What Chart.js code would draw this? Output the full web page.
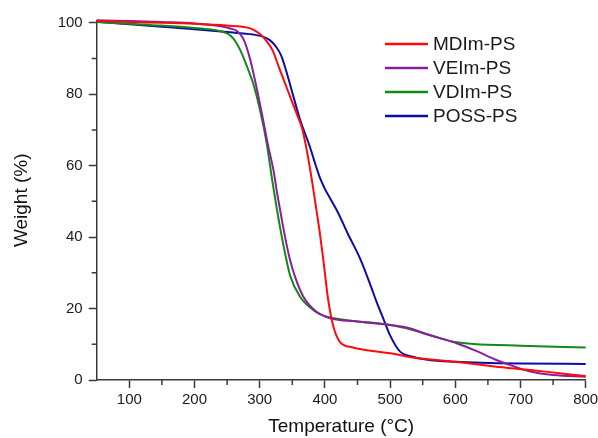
<!DOCTYPE html>
<html>
<head>
<meta charset="utf-8">
<script src="https://cdn.jsdelivr.net/npm/chart.js@4/dist/chart.umd.min.js"></script>
<style>
    html, body { margin: 0; padding: 0; background: #fff; }
    #wrap { width: 598px; height: 438px; }
</style>
</head>
<body>
<div id="wrap"><canvas id="mycanvas"></canvas></div>
<script>
// TGA curves, temperature (°C) vs remaining weight (%)
const seriesNames = ['MDIm-PS', 'VEIm-PS', 'VDIm-PS', 'POSS-PS'];

const mdimT = [50, 100, 150, 200, 250, 280, 290, 300, 310, 320, 330, 340, 350, 360, 365, 372, 380, 385, 392, 398, 405, 413, 423, 443, 470, 500, 535, 600, 660, 715, 760, 800];
const mdimW = [100.5, 100.2, 100, 99.7, 99.2, 98.7, 98.1, 96.9, 95, 92.2, 87.3, 82.5, 77.7, 73, 70.5, 64.5, 56, 50, 41.5, 33, 22.5, 15, 10.7, 9.1, 8.2, 7.5, 6.3, 5.1, 3.8, 2.8, 1.9, 1.1];

const veimT = [50, 100, 150, 200, 240, 255, 265, 275, 285, 295, 305, 313, 321, 327, 334, 340, 346, 354, 367, 387, 408, 450, 500, 530, 551, 575, 602, 630, 663, 690, 715, 750, 800];
const veimW = [100.7, 100.5, 100.2, 99.8, 99, 98.4, 97.7, 95.5, 90, 82, 73, 65.5, 58.8, 52, 44.8, 39, 34, 29, 23.3, 19.1, 17.3, 16.4, 15.4, 14.5, 13.1, 11.8, 10.3, 8.3, 5.6, 3.8, 2.4, 1.4, 0.9];

const vdimT = [50, 100, 150, 200, 250, 260, 270, 280, 290, 300, 310, 320, 330, 340, 347, 362, 382, 403, 423, 450, 500, 535, 565, 597, 628, 700, 800];
const vdimW = [100.2, 99.7, 99.2, 98.5, 97, 95.5, 92.4, 88, 83, 76, 67, 55, 44, 34.5, 29, 23.3, 19.6, 17.7, 17, 16.4, 15.4, 14, 12.4, 10.7, 10.1, 9.6, 9.1];

const possT = [50, 100, 150, 200, 250, 290, 305, 315, 325, 333, 341, 350, 362, 377, 385, 392, 400, 410, 420, 435, 454, 469, 480, 490, 500, 515, 535, 560, 600, 640, 700, 800];
const possW = [100.3, 99.6, 98.9, 98.2, 97.4, 96.7, 96.1, 95.2, 93.3, 90.8, 86.3, 80.5, 72.8, 65.3, 60.6, 56.8, 53.5, 50.2, 46.9, 41, 34, 27, 21.5, 17, 12.5, 8, 6.5, 5.6, 5.1, 4.8, 4.6, 4.5];

const colors = ['#ff0a0a', '#8c1d9e', '#118a16', '#0d0da6'];

const toPoints = (xs, ys) => xs.map((x, i) => ({x: x, y: ys[i]}));
const allT = [mdimT, veimT, vdimT, possT];
const allW = [mdimW, veimW, vdimW, possW];

const axisColor = '#3a3a3a';

// minor tick marks (Chart.js has none of its own)
const minorTicks = {
    id: 'minorTicks',
    afterDraw(chart) {
        const ctx = chart.ctx;
        const xs = chart.scales.x, ys = chart.scales.y;
        ctx.save();
        ctx.strokeStyle = axisColor;
        ctx.lineWidth = 1.5;
        ctx.beginPath();
        for (let v = 150; v < 800; v += 100) {
            const px = xs.getPixelForValue(v);
            ctx.moveTo(px, ys.bottom);
            ctx.lineTo(px, ys.bottom + 5);
        }
        for (let v = 10; v < 100; v += 20) {
            const py = ys.getPixelForValue(v);
            ctx.moveTo(xs.left, py);
            ctx.lineTo(xs.left - 5, py);
        }
        ctx.stroke();
        ctx.restore();
    }
};

// legend drawn inside the plot, top right
const boxLegend = {
    id: 'boxLegend',
    afterDraw(chart) {
        const ctx = chart.ctx;
        ctx.save();
        ctx.font = '19px "Liberation Sans", Arial, sans-serif';
        ctx.textBaseline = 'middle';
        ctx.fillStyle = '#1a1a1a';
        chart.data.datasets.forEach((ds, i) => {
            const y = 44 + i * 24;
            ctx.strokeStyle = ds.borderColor;
            ctx.lineWidth = 2.5;
            ctx.beginPath();
            ctx.moveTo(385, y);
            ctx.lineTo(428, y);
            ctx.stroke();
            ctx.fillText(ds.label, 433, y + 1);
        });
        ctx.restore();
    }
};

Chart.defaults.font.family = '"Liberation Sans", Arial, sans-serif';

const ctx = document.getElementById('mycanvas').getContext('2d');
const myChart = new Chart(ctx, {
    type: 'line',
    data: {
        datasets: seriesNames.map((name, i) => ({
            label: name,
            data: toPoints(allT[i], allW[i]),
            borderColor: colors[i],
            backgroundColor: colors[i],
            borderWidth: 2,
            pointRadius: 0,
            cubicInterpolationMode: 'monotone',
            clip: false,
        }))
    },
    options: {
        responsive: true,
        maintainAspectRatio: false,
        animation: false,
        layout: { padding: { top: 20.6, right: 12.3, left: 0, bottom: 0 } },
        plugins: {
            legend: { display: false },
            tooltip: { enabled: false },
        },
        scales: {
            x: {
                type: 'linear',
                min: 50,
                max: 800,
                grid: { drawOnChartArea: false, tickLength: 8, tickColor: axisColor, tickWidth: 1.5 },
                border: { color: axisColor, width: 1.5 },
                ticks: { stepSize: 100, includeBounds: false, padding: 3, color: '#1a1a1a', font: { size: 15 }, maxRotation: 0 },
                title: { display: true, text: 'Temperature (°C)', color: '#111', font: { size: 19 }, padding: 0 },
                afterFit(scale) {
                    scale.height = 58;
                    scale.paddingLeft = 0;
                    scale.paddingRight = 0;
                }
            },
            y: {
                min: 0,
                max: 100.6,
                grid: { drawOnChartArea: false, tickLength: 8, tickColor: axisColor, tickWidth: 1.5 },
                border: { color: axisColor, width: 1.5 },
                ticks: { stepSize: 20, includeBounds: false, padding: 6, color: '#1a1a1a', font: { size: 15 } },
                title: { display: true, text: 'Weight (%)', color: '#111', font: { size: 19 }, padding: { top: 10.5, bottom: 0 } },
                afterFit(scale) {
                    scale.width = 96.7;
                    scale.paddingTop = 0;
                    scale.paddingBottom = 0;
                }
            }
        }
    },
    plugins: [minorTicks, boxLegend]
});
</script>
</body>
</html>
